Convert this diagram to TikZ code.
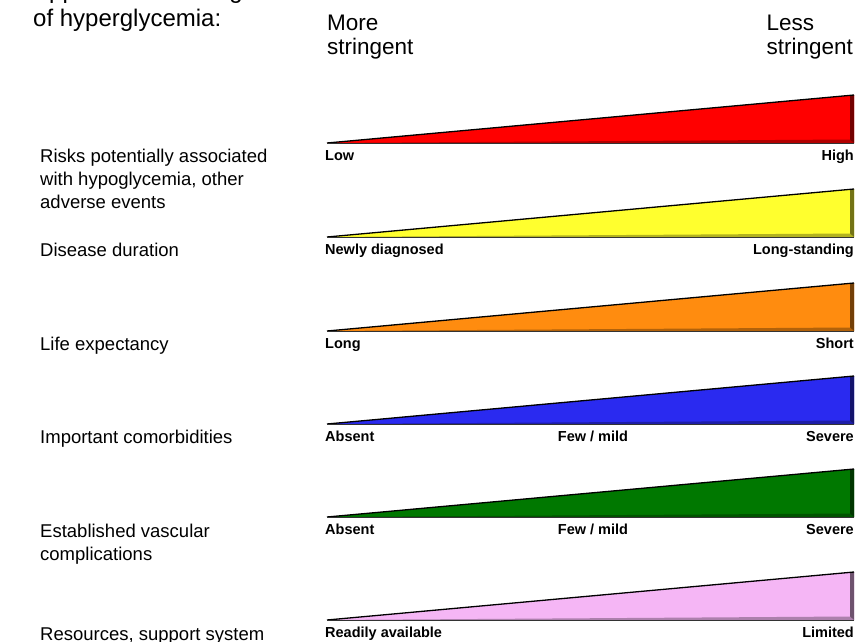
\documentclass[tikz,border=0pt]{standalone}
\usepackage{fontspec}
\setmainfont{Liberation Sans}
\usetikzlibrary{calc}
\definecolor{wred}{HTML}{FF0000}
\definecolor{wyellow}{HTML}{FFFF2E}
\definecolor{worange}{HTML}{FF8C0F}
\definecolor{wblue}{HTML}{2A2AF0}
\definecolor{wgreen}{HTML}{007800}
\definecolor{wpink}{HTML}{F5B6F5}
\tikzset{
  txt/.style={anchor=base west, inner sep=0pt, font=\fontsize{18.5}{23}\selectfont},
  head/.style={anchor=base west, inner sep=0pt, font=\fontsize{22.5}{25}\selectfont},
  ttl/.style={anchor=base west, inner sep=0pt, font=\fontsize{24}{27}\selectfont},
  lbl/.style={inner sep=0pt, font=\bfseries\fontsize{14.5}{16}\selectfont},
}
\newcommand{\wedgebar}[6]{%
  % #1 name, #2 base y, #3 colour, #4 left, #5 right, #6 middle
  \coordinate (#1tip) at (327,#2);
  \coordinate (#1top) at (854,#2-48);
  \coordinate (#1bot) at (854,#2);
  \fill[#3] (#1tip) -- (#1top) -- (#1bot) -- cycle;
  \fill[#3!70!black] (#1tip) -- (850,#2-3.5) -- (#1bot) -- cycle;
  \fill[#3!45!black] (850,#2-47) -- (#1top) -- (#1bot) -- (850,#2-3.5) -- cycle;
  \draw[line width=1.3pt, black] (#1tip) -- (#1top);
  \draw[line width=0.6pt, black!80] (#1tip) -- (#1bot);
  \node[lbl, anchor=base west] (#1l) at (325,#2+17.5) {#4};
  \node[lbl, anchor=base east] (#1r) at (854,#2+17.5) {#5};
  \if\relax\detokenize{#6}\relax\else
    \node[lbl, anchor=base] (#1m) at (593,#2+17.5) {#6};
  \fi
}
\begin{document}
\begin{tikzpicture}[x=1pt,y=-1pt]
\useasboundingbox (0,0) rectangle (856,642);
\clip (0,0) rectangle (856,642);
\fill[white] (0,0) rectangle (856,642);

\node[ttl] (t1) at (33,-1) {Approach to management};
\node[ttl] (t2) at (33,27) {of hyperglycemia:};

\node[head] (more1) at (327,31) {More};
\node[head] (more2) at (327,55) {stringent};
\node[head, anchor=base east] (less2) at (853,55) {stringent};
\node[head] (less1) at ($(less2.base west)+(0,-24)$) {Less};

\node[txt] (r1) at (40,162) {Risks potentially associated};
\node[txt] (r2) at (40,185) {with hypoglycemia, other};
\node[txt] (r3) at (40,208) {adverse events};
\node[txt] (dd) at (40,256) {Disease duration};
\node[txt] (le) at (40,350) {Life expectancy};
\node[txt] (ic) at (40,443) {Important comorbidities};
\node[txt] (ev1) at (40,537) {Established vascular};
\node[txt] (ev2) at (40,560) {complications};
\node[txt] (rs) at (40,640) {Resources, support system};

\wedgebar{a}{143}{wred}{Low}{High}{}
\wedgebar{b}{237}{wyellow}{Newly diagnosed}{Long-standing}{}
\wedgebar{c}{331}{worange}{Long}{Short}{}
\wedgebar{d}{424}{wblue}{Absent}{Severe}{Few / mild}
\wedgebar{e}{517}{wgreen}{Absent}{Severe}{Few / mild}
\wedgebar{f}{620}{wpink}{Readily available}{Limited}{}
\end{tikzpicture}
\end{document}
